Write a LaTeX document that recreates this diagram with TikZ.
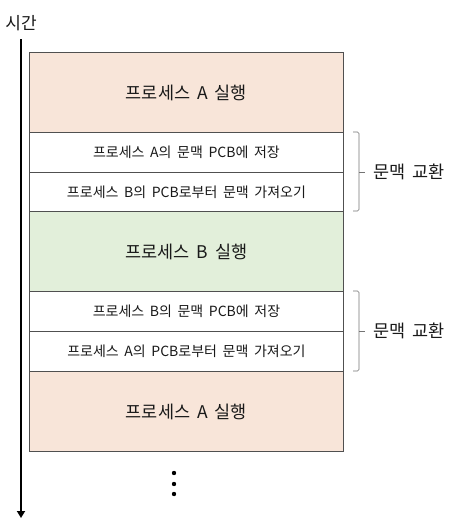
\documentclass[tikz,border=0pt]{standalone}
\usepackage{fontspec}
\setmainfont{Noto Sans CJK KR}
\usetikzlibrary{arrows.meta}
\definecolor{peach}{HTML}{F8E5D9}
\definecolor{mint}{HTML}{E2EFDA}
\definecolor{edge}{HTML}{505050}
\newcommand\fsz[2]{\fontsize{#1}{#1}\selectfont\spaceskip=#2em\relax}
\begin{document}
\begin{tikzpicture}[x=1pt,y=-1pt,
  blk/.style={draw=edge, line width=0.9pt, minimum width=314pt, inner sep=0pt, anchor=north west, text=black!90},
  exec/.style={blk, minimum height=80pt, font=\fsz{17.5}{0.4}},
  sub/.style={blk, minimum height=40pt, fill=white, font=\fsz{14}{0.4}},
  brk/.style={draw=edge!80, line width=0.6pt, rounded corners=1.5pt},
  lbl/.style={anchor=west, font=\fsz{17.5}{0.4}, text=black!90}]
\useasboundingbox (0,0) rectangle (456,522);
\node[anchor=center, font=\fsz{17}{0.3}, text=black!90] (time) at (21,23) {시간};
\coordinate (ts) at (21,39);
\coordinate (te) at (21,518);
\draw[line width=2.4pt, -{Triangle[length=7pt,width=8pt]}] (ts) -- (te);
\node[exec, fill=peach] (a1) at (29,52) {프로세스 A 실행};
\node[sub] (s1) at (29,132) {프로세스 A의 문맥 PCB에 저장};
\node[sub] (s2) at (29,172) {프로세스 B의 PCB로부터 문맥 가져오기};
\node[exec, fill=mint] (b1) at (29,211) {프로세스 B 실행};
\node[sub] (s3) at (29,291) {프로세스 B의 문맥 PCB에 저장};
\node[sub] (s4) at (29,331) {프로세스 A의 PCB로부터 문맥 가져오기};
\node[exec, fill=peach] (a2) at (29,371) {프로세스 A 실행};
% braces
\draw[brk] (353,132) -- (359,132) -- (359,211) -- (353,211);
\draw[brk] (359,172) -- (365,172);
\node[lbl] (c1) at (370,172) {문맥 교환};
\draw[brk] (353,291) -- (359,291) -- (359,371) -- (353,371);
\draw[brk] (359,331) -- (365,331);
\node[lbl] (c2) at (370,331) {문맥 교환};
% dots
\foreach \yy/\n in {473/d1,484/d2,494/d3}
  \fill (174,\yy) circle (2.2pt);
\end{tikzpicture}
\end{document}
